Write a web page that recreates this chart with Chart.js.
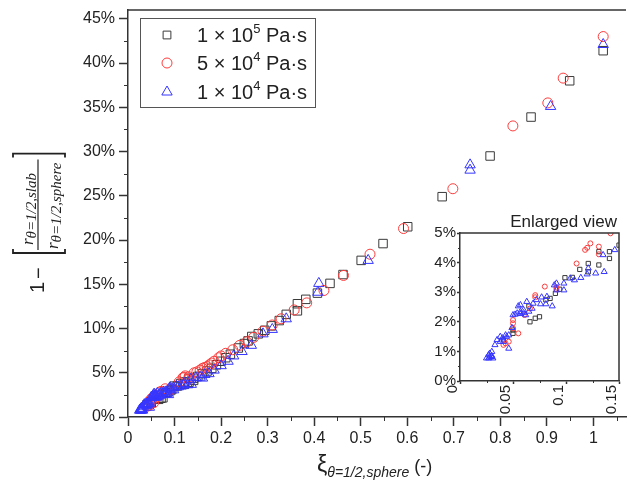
<!DOCTYPE html>
<html><head><meta charset="utf-8">
<script src="https://cdn.jsdelivr.net/npm/chart.js@4.4.0/dist/chart.umd.min.js"></script>
<style>
html,body{margin:0;padding:0;background:#fff;}
#wrap{position:relative;width:633px;height:481px;overflow:hidden;}
#main{position:absolute;left:0;top:0;}
#inset{position:absolute;left:425px;top:200px;}
</style></head><body>
<div id="wrap"><canvas id="main" width="633" height="481"></canvas><canvas id="inset" width="208" height="215"></canvas></div>
<script>
const SANS = '"Liberation Sans", Arial, sans-serif';
const SERIF = '"Liberation Serif", "DejaVu Serif", serif';

// xi (-) vs relative radius difference (%), three viscosities
const blackX = [0.041,0.050,0.050,0.066,0.065,0.071,0.075,0.081,0.085,0.090,0.094,0.099,0.106,0.113,0.121,0.121,0.131,0.131,0.141,0.141,0.150,
  0.160,0.170,0.180,0.190,0.200,0.210,0.220,0.237,0.250,0.258,0.266,0.280,0.294,0.308,0.325,0.340,0.364,0.364,0.382,0.407,0.434,0.462,0.501,0.548,0.601,0.675,0.778,0.866,0.949,1.021];
const blackY = [1.39,1.61,1.72,2.00,2.53,2.12,2.17,2.74,2.79,2.96,3.10,3.49,3.50,3.77,3.97,3.69,3.92,4.37,4.14,4.37,4.59,
  4.9,5.2,5.5,5.9,6.3,6.7,7.1,7.8,8.3,8.6,9.1,9.4,9.8,10.3,10.9,11.6,12.0,12.8,13.3,14.0,15.1,16.1,17.7,19.6,21.5,24.9,29.5,33.9,38.0,41.4];

const redX = [0.041,0.043,0.046,0.050,0.050,0.050,0.055,0.061,0.066,0.071,0.071,0.080,0.091,0.091,0.110,0.118,0.120,0.123,0.131,0.131,0.142,
  0.148,0.155,0.160,0.165,0.170,0.175,0.180,0.185,0.195,0.200,0.210,0.225,0.240,0.255,0.270,0.290,0.310,0.329,0.357,0.384,0.421,0.463,0.520,0.592,0.698,0.827,0.902,0.935,1.021];
const redY = [1.22,1.27,1.33,1.78,1.95,2.06,1.61,2.23,2.45,2.83,2.90,3.19,3.10,3.16,3.97,4.43,4.50,4.65,4.28,4.54,4.99,
  5.1,5.3,5.5,5.6,5.7,5.9,6.1,6.3,6.7,6.9,7.2,7.6,8.1,8.5,9.0,9.7,10.4,11.1,12.1,12.9,14.3,16.0,18.4,21.3,25.8,32.9,35.5,38.3,43.0];

const blueX = [0.146,0.135,0.136,0.128,0.121,0.120,0.114,0.108,0.104,0.098,0.091,0.089,0.098,0.091,0.087,0.082,0.081,0.077,0.076,0.072,0.069,0.068,0.063,0.060,0.057,0.055,0.054,0.050,0.057,0.062,
  0.049,0.046,0.043,0.038,0.035,0.041,0.038,0.046,0.033,0.030,0.028,0.027,0.030,0.027,0.031,0.025,0.052,0.057,0.060,0.065,0.040,0.044,0.030,0.028,
  0.155,0.160,0.165,0.174,0.185,0.200,0.215,0.227,0.245,0.265,0.290,0.310,0.340,0.408,0.410,0.516,0.735,0.735,0.908,1.021];
const blueY = [4.43,4.26,3.69,3.64,3.81,3.61,3.49,3.41,3.47,3.30,3.30,3.24,3.07,3.07,2.53,2.85,2.60,2.83,2.60,2.74,2.62,2.45,2.68,2.40,2.34,2.53,2.29,2.23,2.57,2.23,
  1.80,1.55,1.55,1.50,1.39,1.33,1.33,1.10,1.22,0.99,0.93,0.88,0.82,0.77,0.77,0.77,2.25,2.27,2.30,2.35,1.45,1.50,0.85,0.80,
  4.5,4.4,4.8,4.9,5.3,5.8,6.3,6.9,7.4,8.1,9.4,9.9,11.1,14.1,15.1,17.7,27.9,28.5,35.1,42.1];

const seriesNames = ['1 × 10|5| Pa·s', '5 × 10|4| Pa·s', '1 × 10|4| Pa·s'];
const xTicks = [0,0.1,0.2,0.3,0.4,0.5,0.6,0.7,0.8,0.9,1];
const xMinor = [0.05,0.15,0.25,0.35,0.45,0.55,0.65,0.75,0.85,0.95,1.05];
const yTicks = [0,5,10,15,20,25,30,35,40,45];
const yMinor = [2.5,7.5,12.5,17.5,22.5,27.5,32.5,37.5,42.5];
const insetXTicks = [0,0.05,0.1,0.15];
const insetXMinor = [0.025,0.075,0.125];
const insetYTicks = [0,1,2,3,4,5];
const insetYMinor = [0.5,1.5,2.5,3.5,4.5];

const pts = (xs, ys) => xs.map((x, i) => ({x, y: ys[i]}));
const COL = {black:'#3a3a3a', red:'#ff3b3b', blue:'#3535ff'};

function datasets(big){
  return [
    {label:'a', data:pts(blackX, blackY), pointStyle:'rect', borderColor:COL.black, pointRadius: big?6:3, order:3},
    {label:'b', data:pts(redX, redY), pointStyle:'circle', borderColor:COL.red, pointRadius: big?5:2.5, order:2},
    {label:'c', data:pts(blueX, blueY), pointStyle:'triangle', borderColor:COL.blue, pointRadius: big?6:3.5, order:1}
  ].map(d => Object.assign(d, {backgroundColor:'rgba(0,0,0,0)', borderWidth:1, pointBorderWidth:1, showLine:false}));
}

// draw text pieces one after the other; returns end x
function runs(ctx, x, y, list){
  list.forEach(r => { ctx.font = r.f; ctx.fillText(r.t, x, y + (r.dy||0)); x += ctx.measureText(r.t).width; });
  return x;
}

function marker(ctx, style, x, y, r, color){
  ctx.strokeStyle = color; ctx.lineWidth = 1; ctx.beginPath();
  if (style === 'rect') { const s = r*Math.SQRT1_2; ctx.rect(x-s, y-s, 2*s, 2*s); }
  else if (style === 'circle') ctx.arc(x, y, r, 0, Math.PI*2);
  else { ctx.moveTo(x, y-r); ctx.lineTo(x+r*0.866, y+r*0.5); ctx.lineTo(x-r*0.866, y+r*0.5); ctx.closePath(); }
  ctx.stroke();
}

const deco = {
  id:'deco',
  afterDraw(chart, args, o){
    const {ctx, chartArea:a, scales:{x, y}} = chart;
    ctx.save();
    ctx.strokeStyle = '#333'; ctx.lineWidth = 1.5;
    ctx.beginPath(); ctx.moveTo(a.left, a.top); ctx.lineTo(a.right, a.top);
    if (o.inset) ctx.lineTo(a.right, a.bottom);
    ctx.stroke();
    ctx.lineWidth = 1; ctx.beginPath();
    o.minorX.forEach(v => { const p = Math.round(x.getPixelForValue(v))+0.5; ctx.moveTo(p, a.bottom); ctx.lineTo(p, a.bottom + o.minorLen); });
    o.minorY.forEach(v => { const p = Math.round(y.getPixelForValue(v))+0.5; ctx.moveTo(a.left, p); ctx.lineTo(a.left - o.minorLen, p); });
    ctx.stroke();
    ctx.fillStyle = '#222';
    if (o.inset) {
      ctx.font = '17px ' + SANS; ctx.textAlign = 'right'; ctx.textBaseline = 'alphabetic';
      ctx.fillText('Enlarged view', a.right - 2, a.top - 6);
      ctx.restore(); return;
    }
    // legend
    ctx.strokeStyle = '#555'; ctx.lineWidth = 1;
    ctx.strokeRect(140.5, 18.5, 175, 89);
    const styles = ['rect','circle','triangle'], cols = [COL.black, COL.red, COL.blue], rad = [5.5, 5, 6];
    [35, 63, 92].forEach((ry, i) => {
      marker(ctx, styles[i], 167, ry, rad[i], cols[i]);
      const [a1, s, a2] = seriesNames[i].split('|');
      ctx.fillStyle = '#222'; ctx.textAlign = 'left'; ctx.textBaseline = 'alphabetic';
      runs(ctx, 197, ry + 7, [{t:a1, f:'20px '+SANS}, {t:s, f:'13px '+SANS, dy:-9}, {t:a2, f:'20px '+SANS}]);
    });
    // x title
    runs(ctx, 317, 472, [{t:'ξ', f:'23px '+SANS}, {t:'θ=1/2,sphere', f:'italic 14px '+SANS, dy:5}, {t:' (-)', f:'18px '+SANS}]);
    // y title, rotated
    ctx.translate(38, 293); ctx.rotate(-Math.PI/2);
    ctx.textBaseline = 'middle';
    ctx.font = '20px ' + SANS;
    ctx.fillText('1', 0, 0);
    ctx.fillText('\u2212', 14, 1);
    ctx.textBaseline = 'alphabetic';
    const b0 = 40;
    const e1 = runs(ctx, 48, -5, [{t:'r', f:'italic 17px '+SERIF}, {t:'θ=1/2,slab', f:'italic 15px '+SERIF, dy:3}]);
    const e2 = runs(ctx, 44, 20, [{t:'r', f:'italic 17px '+SERIF}, {t:'θ=1/2,sphere', f:'italic 15px '+SERIF, dy:3}]);
    const end = Math.max(e1, e2) + 3;
    ctx.strokeStyle = '#222'; ctx.lineWidth = 1.2;
    ctx.beginPath(); ctx.moveTo(b0 + 3, 0); ctx.lineTo(end, 0); ctx.stroke();
    ctx.lineWidth = 1.8; ctx.beginPath();
    ctx.moveTo(b0 + 4, -25); ctx.lineTo(b0, -25); ctx.lineTo(b0, 27); ctx.lineTo(b0 + 4, 27);
    ctx.moveTo(end + 2, -25); ctx.lineTo(end + 6, -25); ctx.lineTo(end + 6, 27); ctx.lineTo(end + 2, 27);
    ctx.stroke();
    ctx.restore();
  }
};

function axis(opts){
  const {min, max, ticks, fmt, size, tl, pad, fit, rot, off} = opts;
  return {
    type:'linear', min, max,
    afterBuildTicks: s => { s.ticks = ticks.map(v => ({value:v})); },
    afterFit: fit,
    grid:{drawOnChartArea:false, drawTicks:true, tickLength:tl, tickColor:'#333', tickWidth:1.5},
    border:{color:'#333', width:1.5},
    ticks:{padding:pad, color:'#222', font:{family:SANS, size}, autoSkip:false,
      minRotation:rot||0, maxRotation:rot||0, labelOffset:off||0, callback: fmt}
  };
}
const numFmt = v => String(+v.toFixed(2));
const pctFmt = v => v + '%';

new Chart(document.getElementById('main'), {
  type:'scatter',
  data:{datasets:datasets(true)},
  options:{
    responsive:false, animation:false,
    layout:{padding:{top:10, left:0, right:0, bottom:0}},
    plugins:{legend:{display:false}, tooltip:{enabled:false},
      deco:{minorX:xMinor, minorY:yMinor, minorLen:4}},
    scales:{
      x: axis({min:0, max:1.07, ticks:xTicks, fmt:numFmt, size:16, tl:9, pad:3,
        fit: s => { s.height = 64; s.paddingLeft = 0; s.paddingRight = 0; }}),
      y: axis({min:0, max:46, ticks:yTicks, fmt:pctFmt, size:16, tl:9, pad:4,
        fit: s => { s.width = 128; s.paddingTop = 0; s.paddingBottom = 0; }})
    }
  },
  plugins:[deco]
});

new Chart(document.getElementById('inset'), {
  type:'scatter',
  data:{datasets:datasets(false)},
  options:{
    responsive:false, animation:false,
    layout:{padding:{top:33, left:0, right:14, bottom:0}},
    plugins:{legend:{display:false}, tooltip:{enabled:false},
      deco:{inset:true, minorX:insetXMinor, minorY:insetYMinor, minorLen:2}},
    scales:{
      x: axis({min:0, max:0.15, ticks:insetXTicks, fmt:numFmt, size:15, tl:3, pad:1, rot:90, off:-7,
        fit: s => { s.height = 34; s.paddingLeft = 0; s.paddingRight = 0; }}),
      y: axis({min:0, max:5, ticks:insetYTicks, fmt:pctFmt, size:15, tl:3, pad:1,
        fit: s => { s.width = 35; s.paddingTop = 0; s.paddingBottom = 0; }})
    }
  },
  plugins:[deco]
});
</script>
</body></html>
